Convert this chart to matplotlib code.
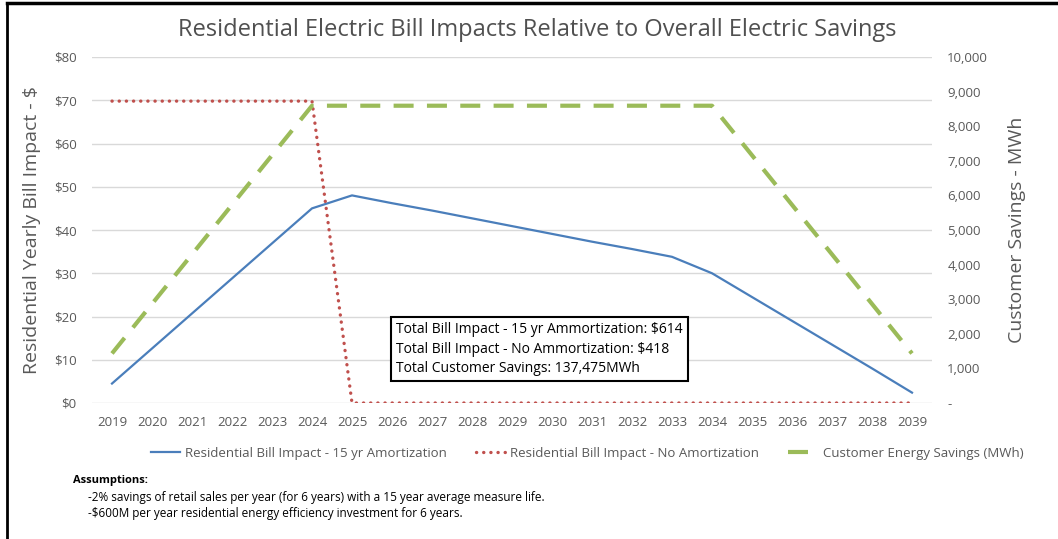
import numpy as np
import matplotlib
matplotlib.use("Agg")
import matplotlib.pyplot as plt
from matplotlib.ticker import FuncFormatter

plt.rcParams['font.family'] = ['Open Sans', 'DejaVu Sans']

# data
years = [str(y) for y in range(2019, 2040)]
bill_amortized = [4.5, 12.6, 20.7, 28.8, 36.9, 45.0, 48.0, 46.2, 44.5, 42.7, 40.9,
                  39.1, 37.3, 35.6, 33.8, 30.0, 24.5, 19.0, 13.5, 8.0, 2.4]
bill_no_amort = [69.8] * 6 + [0.0] * 15
energy_savings = [1432, 2864, 4296, 5728, 7160, 8592, 8592, 8592, 8592, 8592, 8592,
                  8592, 8592, 8592, 8592, 8592, 7160, 5728, 4296, 2864, 1432]

title = 'Residential Electric Bill Impacts Relative to Overall Electric Savings'
box_lines = ['Total Bill Impact - 15 yr Ammortization: $614',
             'Total Bill Impact - No Ammortization: $418',
             'Total Customer Savings: 137,475MWh']
notes = ['-2% savings of retail sales per year (for 6 years) with a 15 year average measure life.',
         '-$600M per year residential energy efficiency investment for 6 years.']

W, H = 1058, 539
fig = plt.figure(figsize=(W / 100, H / 100), dpi=100)
ax = fig.add_axes([92 / W, 1 - 403 / H, (932 - 92) / W, (403 - 57) / H])
ax2 = ax.twinx()

gray = '#595959'
x = np.arange(len(years))

l1, = ax.plot(x, bill_amortized, color='#4a7ebb', lw=1.6,
              label='Residential Bill Impact - 15 yr Amortization')
l2, = ax.plot(x, bill_no_amort, color='#c0504d', lw=2.4, linestyle=(0, (0.05, 2.1)),
              dash_capstyle='round', label='Residential Bill Impact - No Amortization')
l3, = ax2.plot(x, energy_savings, color='#9bbb59', lw=3.0, linestyle=(0, (4.8, 3.2)),
               label='Customer Energy Savings (MWh)')

ax.set_ylim(0, 80)
ax.set_yticks(np.arange(0, 81, 10))
ax.yaxis.set_major_formatter(FuncFormatter(lambda v, p: f'${v:.0f}'))
ax2.set_ylim(0, 10000)
ax2.set_yticks(np.arange(0, 10001, 1000))
ax2.yaxis.set_major_formatter(FuncFormatter(lambda v, p: '-' if v == 0 else f'{v:,.0f}'))
ax.set_xlim(-0.5, len(years) - 0.5)
ax.set_xticks(x)
ax.set_xticklabels(years)

ax.grid(axis='y', color='#d9d9d9', lw=1)
ax.set_axisbelow(True)
for a in (ax, ax2):
    for s in a.spines.values():
        s.set_visible(False)
    a.tick_params(length=0, labelsize=9.5, colors=gray)
ax.tick_params(axis='y', pad=11)
ax2.tick_params(axis='y', pad=11)
ax.tick_params(axis='x', pad=9)

ax.set_ylabel('Residential Yearly Bill Impact - $', fontsize=14, color=gray, labelpad=9)
ax2.set_ylabel('Customer Savings - MWh', fontsize=14, color=gray, labelpad=14)

fig.text(537 / W, 1 - 30 / H, title, ha='center', va='center', fontsize=17, color='#505050')

ax.text(0.362, 0.156, '\n'.join(box_lines), transform=ax.transAxes, fontsize=10,
        color='black', va='center', ha='left', linespacing=1.4,
        bbox=dict(boxstyle='square,pad=0.4', fc='white', ec='black', lw=1.5))

fig.legend(handles=[l1, l2, l3], loc='center', bbox_to_anchor=(587 / W, 1 - 453 / H),
           ncol=3, frameon=False, fontsize=9.5, labelcolor=gray, handlelength=2.2,
           columnspacing=2.2, handletextpad=0.4)

fig.text(73 / W, 1 - 480 / H, 'Assumptions:', fontsize=8, fontweight='bold', va='center')
for i, n in enumerate(notes):
    fig.text(88 / W, 1 - (497 + 17 * i) / H, n, fontsize=8.5, va='center')

# outer frame lines (left and top) as in the screenshot
fig.add_artist(plt.Line2D([7 / W, 7 / W], [0, 1 - 3 / H], transform=fig.transFigure,
                          color='black', lw=2))
fig.add_artist(plt.Line2D([7 / W, 1], [1 - 3 / H, 1 - 3 / H], transform=fig.transFigure,
                          color='black', lw=2.5))

fig.savefig('out.png', dpi=100)
